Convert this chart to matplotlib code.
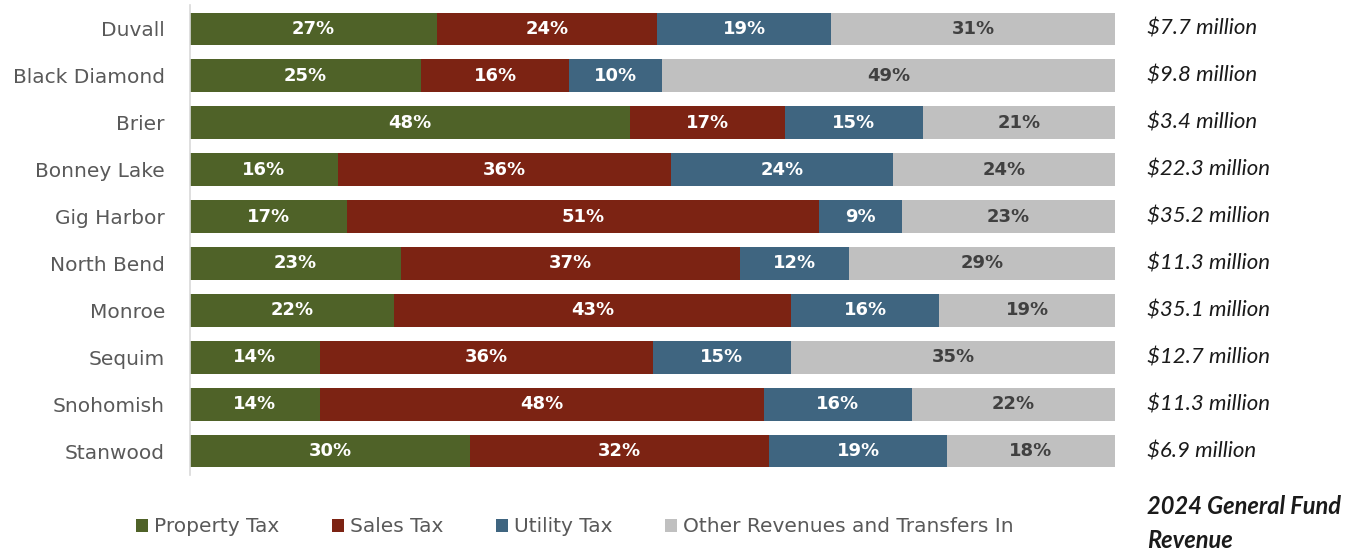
import matplotlib
matplotlib.use("Agg")
import matplotlib.pyplot as plt
from matplotlib.patches import Patch
import numpy as np

cities = ["Duvall", "Black Diamond", "Brier", "Bonney Lake", "Gig Harbor",
          "North Bend", "Monroe", "Sequim", "Snohomish", "Stanwood"]
property_tax = [27, 25, 48, 16, 17, 23, 22, 14, 14, 30]
sales_tax = [24, 16, 17, 36, 51, 37, 43, 36, 48, 32]
utility_tax = [19, 10, 15, 24, 9, 12, 16, 15, 16, 19]
other_revenue = [31, 49, 21, 24, 23, 29, 19, 35, 22, 18]
fund_revenue = ["$7.7 million", "$9.8 million", "$3.4 million", "$22.3 million",
                "$35.2 million", "$11.3 million", "$35.1 million", "$12.7 million",
                "$11.3 million", "$6.9 million"]
series_names = ["Property Tax", "Sales Tax", "Utility Tax",
                "Other Revenues and Transfers In"]

colors = ["#4f6228", "#7c2313", "#3f6580", "#c0c0c0"]
text_colors = ["white", "white", "white", "#404040"]

plt.rcParams["font.family"] = ["DejaVu Sans"]

fig = plt.figure(figsize=(13.62, 5.5), dpi=100)
ax = fig.add_axes([190 / 1362, 1 - 474.5 / 550, 925 / 1362, 469 / 550])

series = np.array([property_tax, sales_tax, utility_tax, other_revenue], dtype=float)
totals = series.sum(axis=0)
shares = series / totals * 100  # each row spans the full width

y = np.arange(len(cities))
left = np.zeros(len(cities))
for i in range(4):
    ax.barh(y, shares[i], left=left, height=0.7, color=colors[i], edgecolor="none")
    for j in range(len(cities)):
        ax.text(left[j] + shares[i][j] / 2, y[j], f"{int(series[i][j])}%",
                ha="center", va="center", fontsize=13, fontweight="bold",
                color=text_colors[i])
    left += shares[i]

ax.set_xlim(0, 100)
ax.set_ylim(len(cities) - 0.5, -0.5)
ax.set_yticks(y)
ax.set_yticklabels(cities, fontsize=14.5, color="#595959")
ax.tick_params(axis="y", length=0, pad=18)
ax.set_xticks([])
for s in ["top", "right", "bottom"]:
    ax.spines[s].set_visible(False)
ax.spines["left"].set_color("#d9d9d9")
ax.spines["left"].set_linewidth(1.2)

for j, label in enumerate(fund_revenue):
    ax.text(1.035, y[j], label, transform=ax.get_yaxis_transform(),
            ha="left", va="center", fontsize=16, style="italic",
            color="#1a1a1a", family="Lato")

fig.text(1147 / 1362, 1 - 507 / 550, "2024 General Fund", ha="left", va="center",
         fontsize=17, style="italic", fontweight="bold", color="#1a1a1a",
         family="Lato")
fig.text(1147 / 1362, 1 - 540 / 550, "Revenue", ha="left", va="center",
         fontsize=17, style="italic", fontweight="bold", color="#1a1a1a",
         family="Lato")

handles = [Patch(facecolor=c, edgecolor="none") for c in colors]
fig.legend(handles, series_names, loc="center left",
           bbox_to_anchor=(118 / 1362, 1 - 527 / 550), ncol=4, frameon=False,
           fontsize=14.5, labelcolor="#595959", handlelength=0.6, handleheight=0.6,
           handletextpad=0.3, columnspacing=2.6)

fig.savefig("out.png", dpi=100)
